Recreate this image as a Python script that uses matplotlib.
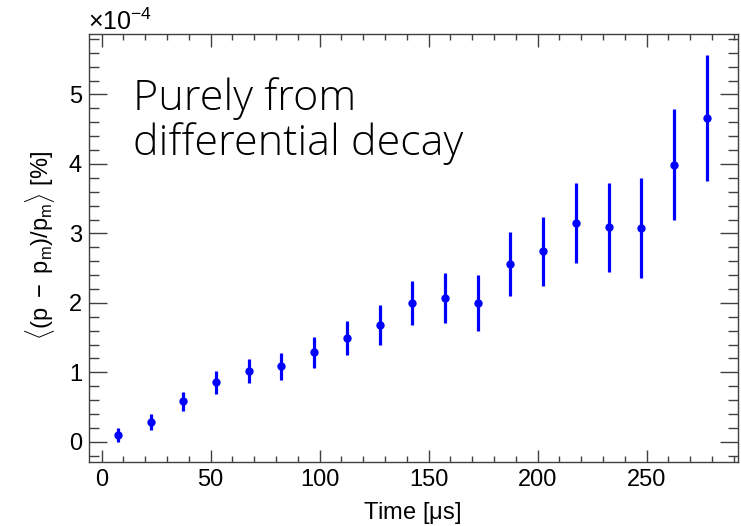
import matplotlib
matplotlib.use("Agg")
import matplotlib.pyplot as plt
import numpy as np
from matplotlib.ticker import MultipleLocator

plt.rcParams['font.family'] = ['Liberation Sans', 'DejaVu Sans']
plt.rcParams['mathtext.fontset'] = 'custom'
plt.rcParams['mathtext.rm'] = 'Liberation Sans'
plt.rcParams['mathtext.it'] = 'Liberation Sans'

# bin centres [us] and mean momentum shift (units of 1e-4 %)
time_us = [7.5, 22.5, 37.5, 52.5, 67.5, 82.5, 97.5, 112.5, 127.5, 142.5,
           157.5, 172.5, 187.5, 202.5, 217.5, 232.5, 247.5, 262.5, 277.5]
shift = [0.10, 0.29, 0.585, 0.855, 1.015, 1.085, 1.29, 1.49, 1.68, 2.00,
         2.07, 2.00, 2.56, 2.74, 3.15, 3.09, 3.08, 3.99, 4.66]
shift_err = [0.10, 0.115, 0.135, 0.16, 0.175, 0.19, 0.225, 0.245, 0.29, 0.32,
             0.36, 0.40, 0.455, 0.50, 0.57, 0.64, 0.72, 0.80, 0.91]

fig = plt.figure(figsize=(7.41, 5.26), dpi=100)
ax = fig.add_axes([89/741, 1-462/526, (738-89)/741, (462-34)/526])

ax.errorbar(time_us, shift, yerr=shift_err, fmt='o', color='#0000ff',
            markersize=5, elinewidth=2.3, capsize=0)

ax.set_xlim(-5.8, 291.9)
ax.set_ylim(-0.29, 5.87)
ax.xaxis.set_major_locator(MultipleLocator(50))
ax.xaxis.set_minor_locator(MultipleLocator(10))
ax.yaxis.set_major_locator(MultipleLocator(1))
ax.yaxis.set_minor_locator(MultipleLocator(0.2))

for s in ax.spines.values():
    s.set_color('#404040')
    s.set_linewidth(1.0)
ax.tick_params(which='both', direction='in', top=True, right=True,
               colors='#404040', labelcolor='black', labelsize=17, width=1)
ax.tick_params(axis='x', which='major', length=9, pad=5)
ax.tick_params(axis='x', which='minor', length=4.5)
ax.tick_params(axis='y', which='major', length=13, pad=5)
ax.tick_params(axis='y', which='minor', length=7.5)

fig.text(88/741, 1-30/526, r'$\times10^{-4}$', fontsize=18, va='baseline', ha='left')

fig.text(363/741, 1-519/526, r'Time [$\mu$s]', fontsize=17, va='baseline', ha='left')
fig.text(40/741, 1-245/526, r'$\langle(\mathrm{p}\ -\ \mathrm{p_m})/\mathrm{p_m}\rangle$ [%]',
         fontsize=17, rotation=90, va='center', ha='center')

# annotation
fig.text(133/741, 1-110/526, 'Purely from', fontsize=31, family='Open Sans',
         fontweight='light', va='baseline', ha='left')
fig.text(133/741, 1-155/526, 'differential decay', fontsize=31, family='Open Sans',
         fontweight='light', va='baseline', ha='left')

fig.savefig('out.png', dpi=100)
